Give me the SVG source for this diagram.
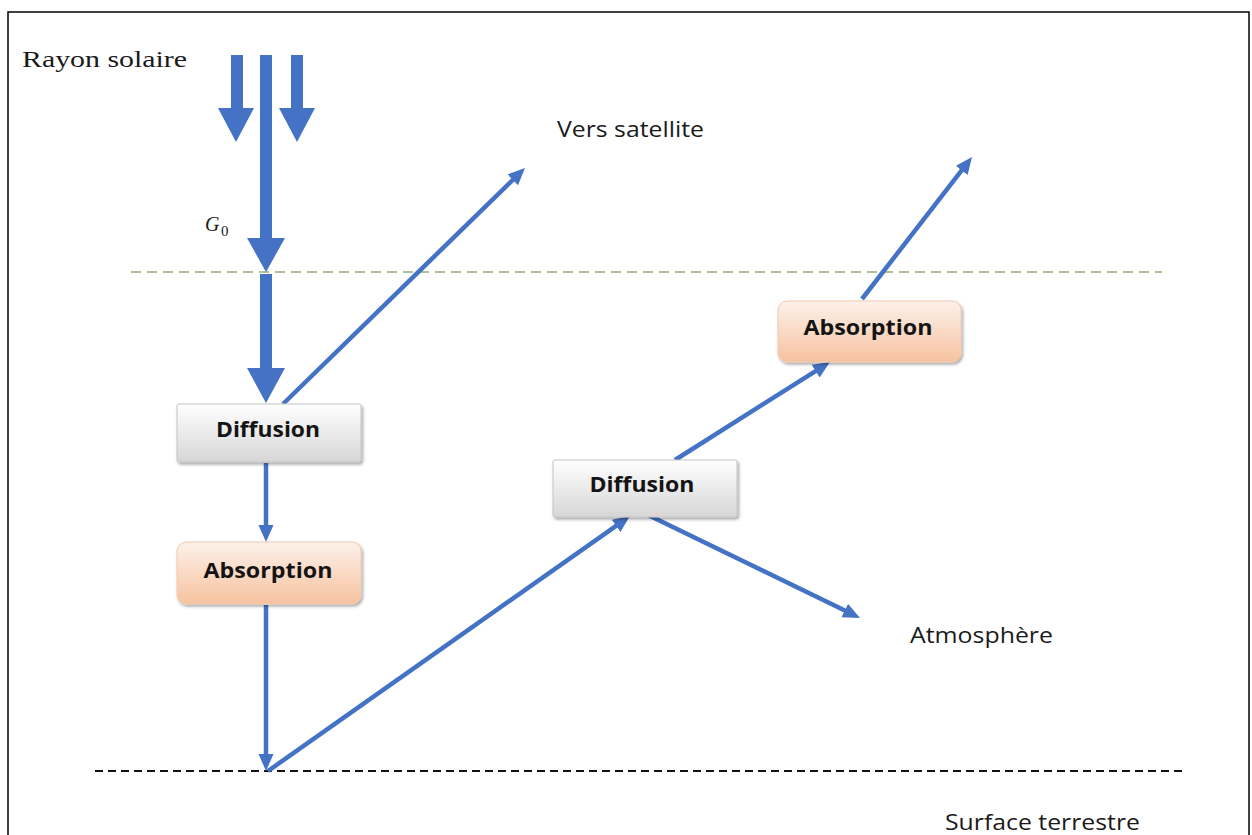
<svg xmlns="http://www.w3.org/2000/svg" width="1252" height="835" viewBox="0 0 1252 835">
<defs>
<linearGradient id="gGray" x1="0" y1="0" x2="0" y2="1">
<stop offset="0" stop-color="#ffffff"/>
<stop offset="1" stop-color="#d6d6d6"/>
</linearGradient>
<linearGradient id="gOrange" x1="0" y1="0" x2="0" y2="1">
<stop offset="0" stop-color="#fdf1ea"/>
<stop offset="1" stop-color="#f6c29f"/>
</linearGradient>
<filter id="shadow" x="-10%" y="-10%" width="130%" height="140%">
<feDropShadow dx="1.5" dy="2" stdDeviation="1.5" flood-color="#000" flood-opacity="0.35"/>
</filter>
<marker id="ah" markerUnits="userSpaceOnUse" markerWidth="18" markerHeight="16" refX="7" refY="7.5" orient="auto">
<path d="M0,0 L17,7.5 L0,15 z" fill="#4472c4"/>
</marker>
</defs>
<style>
.lbl{font-family:"Open Sans","Liberation Sans",sans-serif;font-size:21px;fill:#1a1a1a}
.box{font-family:"Open Sans","Liberation Sans",sans-serif;font-size:21px;font-weight:bold;fill:#141414;text-anchor:middle}
.con{stroke:#4472c4;stroke-width:4.5;fill:none;marker-end:url(#ah)}
.blk{fill:#4472c4}
.gray{fill:url(#gGray);stroke:#c4c4c4;stroke-width:1}
.org{fill:url(#gOrange);stroke:#efc9b0;stroke-width:1}
</style>
<rect x="0" y="0" width="1252" height="835" fill="#ffffff"/>
<rect x="8" y="12" width="1241" height="840" fill="none" stroke="#000" stroke-width="1.5"/>

<g id="levels">
<line x1="131" y1="272" x2="1162" y2="272" stroke="#8fae74" stroke-width="1.5" stroke-dasharray="10,6"/>
<line x1="95" y1="771" x2="1186" y2="771" stroke="#111" stroke-width="2" stroke-dasharray="8,5"/>
</g>

<g id="labels">
<text x="22" y="67" font-family="'Liberation Serif',serif" font-size="24" fill="#1a1a1a" textLength="165" lengthAdjust="spacingAndGlyphs">Rayon solaire</text>
<text class="lbl" x="557" y="137" textLength="147" lengthAdjust="spacingAndGlyphs">Vers satellite</text>
<text class="lbl" x="910" y="643" textLength="143" lengthAdjust="spacingAndGlyphs">Atmosphère</text>
<text class="lbl" x="945" y="830" textLength="195" lengthAdjust="spacingAndGlyphs">Surface terrestre</text>
<text x="205" y="231" font-family="'Liberation Serif',serif" font-style="italic" font-size="20" fill="#1a1a1a">G</text>
<text x="221" y="236" font-family="'Liberation Serif',serif" font-size="15" fill="#1a1a1a">0</text>
</g>

<g id="sunrays">
<polygon class="blk" points="231,55 243,55 243,108 254,108 236,142 218,108 231,108"/>
<polygon class="blk" points="291,55 303,55 303,108 315,108 297,142 279,108 291,108"/>
<polygon class="blk" points="260,55 272,55 272,238 285,238 266,272 247,238 260,238"/>
<polygon class="blk" points="260,274 272,274 272,368 285,368 266,403 247,368 260,368"/>
</g>

<g id="connectors">
<line class="con" x1="283" y1="404" x2="517.8" y2="175"/>
<line class="con" x1="266" y1="463" x2="266" y2="532"/>
<line class="con" x1="266" y1="605" x2="266" y2="761"/>
<line class="con" x1="268" y1="771" x2="621.8" y2="521.8"/>
<line class="con" x1="646" y1="514" x2="851" y2="613.6"/>
<line class="con" x1="675" y1="460" x2="821.5" y2="367.3"/>
<line class="con" x1="862" y1="299" x2="965.9" y2="164.9"/>
</g>

<g id="diffusion1">
<rect class="gray" x="177" y="404" width="184" height="58" rx="2" filter="url(#shadow)"/>
<text class="box" x="268" y="437" textLength="104" lengthAdjust="spacingAndGlyphs">Diffusion</text>
</g>
<g id="absorption1">
<rect class="org" x="177" y="542" width="184" height="62" rx="9" filter="url(#shadow)"/>
<text class="box" x="268" y="578" textLength="129" lengthAdjust="spacingAndGlyphs">Absorption</text>
</g>
<g id="diffusion2">
<rect class="gray" x="553" y="460" width="184" height="57" rx="2" filter="url(#shadow)"/>
<text class="box" x="642" y="492" textLength="105" lengthAdjust="spacingAndGlyphs">Diffusion</text>
</g>
<g id="absorption2">
<rect class="org" x="778" y="301" width="183" height="61" rx="9" filter="url(#shadow)"/>
<text class="box" x="868" y="335" textLength="129" lengthAdjust="spacingAndGlyphs">Absorption</text>
</g>
</svg>
